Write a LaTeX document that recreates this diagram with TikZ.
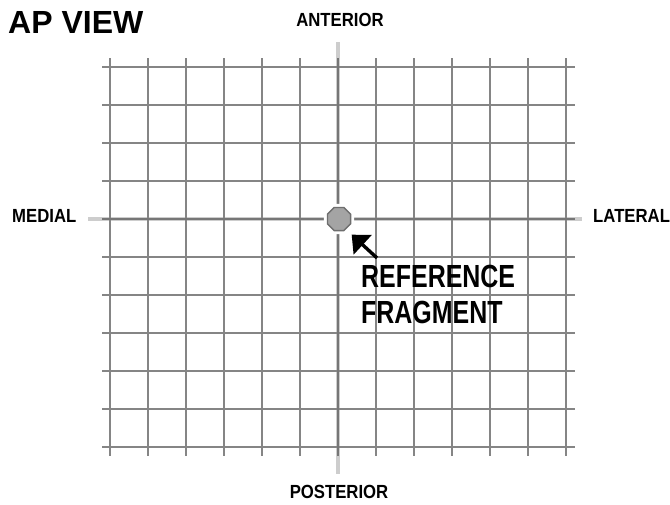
\documentclass[tikz,border=0pt]{standalone}
\usepackage{fontspec}
\setmainfont{Liberation Sans}
\newfontfamily\condfont{Liberation Sans}[FakeStretch=0.78]
\newfontfamily\sidefont{Liberation Sans}[FakeStretch=0.88]
\usepackage{tikz}
\usetikzlibrary{arrows.meta,positioning,shapes.geometric}
\definecolor{gridgray}{HTML}{858585}
\definecolor{axisgray}{HTML}{767676}
\definecolor{stubgray}{HTML}{CDCDCD}
\definecolor{fraggray}{HTML}{A4A4A4}
\definecolor{fragedge}{HTML}{6E6E6E}
\tikzset{
  gridline/.style={gridgray, line width=2pt},
  axisline/.style={axisgray, line width=2.4pt},
  stubline/.style={stubgray, line width=4pt},
  sidelabel/.style={font=\sidefont\bfseries\fontsize{19}{21}\selectfont, inner sep=0pt},
  titlelabel/.style={font=\bfseries\fontsize{32}{36}\selectfont, inner sep=0pt, anchor=base west},
  notelabel/.style={font=\condfont\bfseries\fontsize{32}{36}\selectfont, inner sep=0pt, align=left, anchor=north west},
  fragment/.style={regular polygon, regular polygon sides=8, minimum size=25pt, inner sep=0pt, fill=fraggray, draw=fragedge, line width=1.4pt},
  halo/.style={regular polygon, regular polygon sides=8, minimum size=33pt, inner sep=0pt, fill=white},
  fragarrow/.style={black, line width=3.4pt, -{Triangle[length=15pt, width=26pt]}}
}
\begin{document}
\begin{tikzpicture}[x=1pt, y=-1pt]
  \useasboundingbox (0,0) rectangle (670,504);
  % light stubs past the grid
  \draw[stubline] (338,42)--(338,474);
  \draw[stubline] (88,219)--(582,219);
  % grid
  \foreach \i in {0,...,12}
    \draw[gridline] (110+38*\i,58)--(110+38*\i,456);
  \foreach \j in {0,...,10}
    \draw[gridline] (102,67+38*\j)--(575,67+38*\j);
  \draw[axisline] (338,58)--(338,456);
  \draw[axisline] (102,219)--(575,219);
  % fragment
  \node[halo] at (339,219) {};
  \node[fragment] (frag) at (339,219) {};
  \node[titlelabel] (title) at (8,33) {AP VIEW};
  \node[sidelabel] (anterior) at (340,20) {ANTERIOR};
  \node[sidelabel] (posterior) at (339,492) {POSTERIOR};
  \node[sidelabel, anchor=west] (medial) at (12,216) {MEDIAL};
  \node[sidelabel, anchor=west] (lateral) at (593,216) {LATERAL};
  \node[notelabel] (note) at (361,265) {REFERENCE\\FRAGMENT};
  \draw[fragarrow] ([xshift=16pt,yshift=7pt]note.north west) -- ([xshift=4pt,yshift=-7pt]frag.south east);
\end{tikzpicture}
\end{document}
